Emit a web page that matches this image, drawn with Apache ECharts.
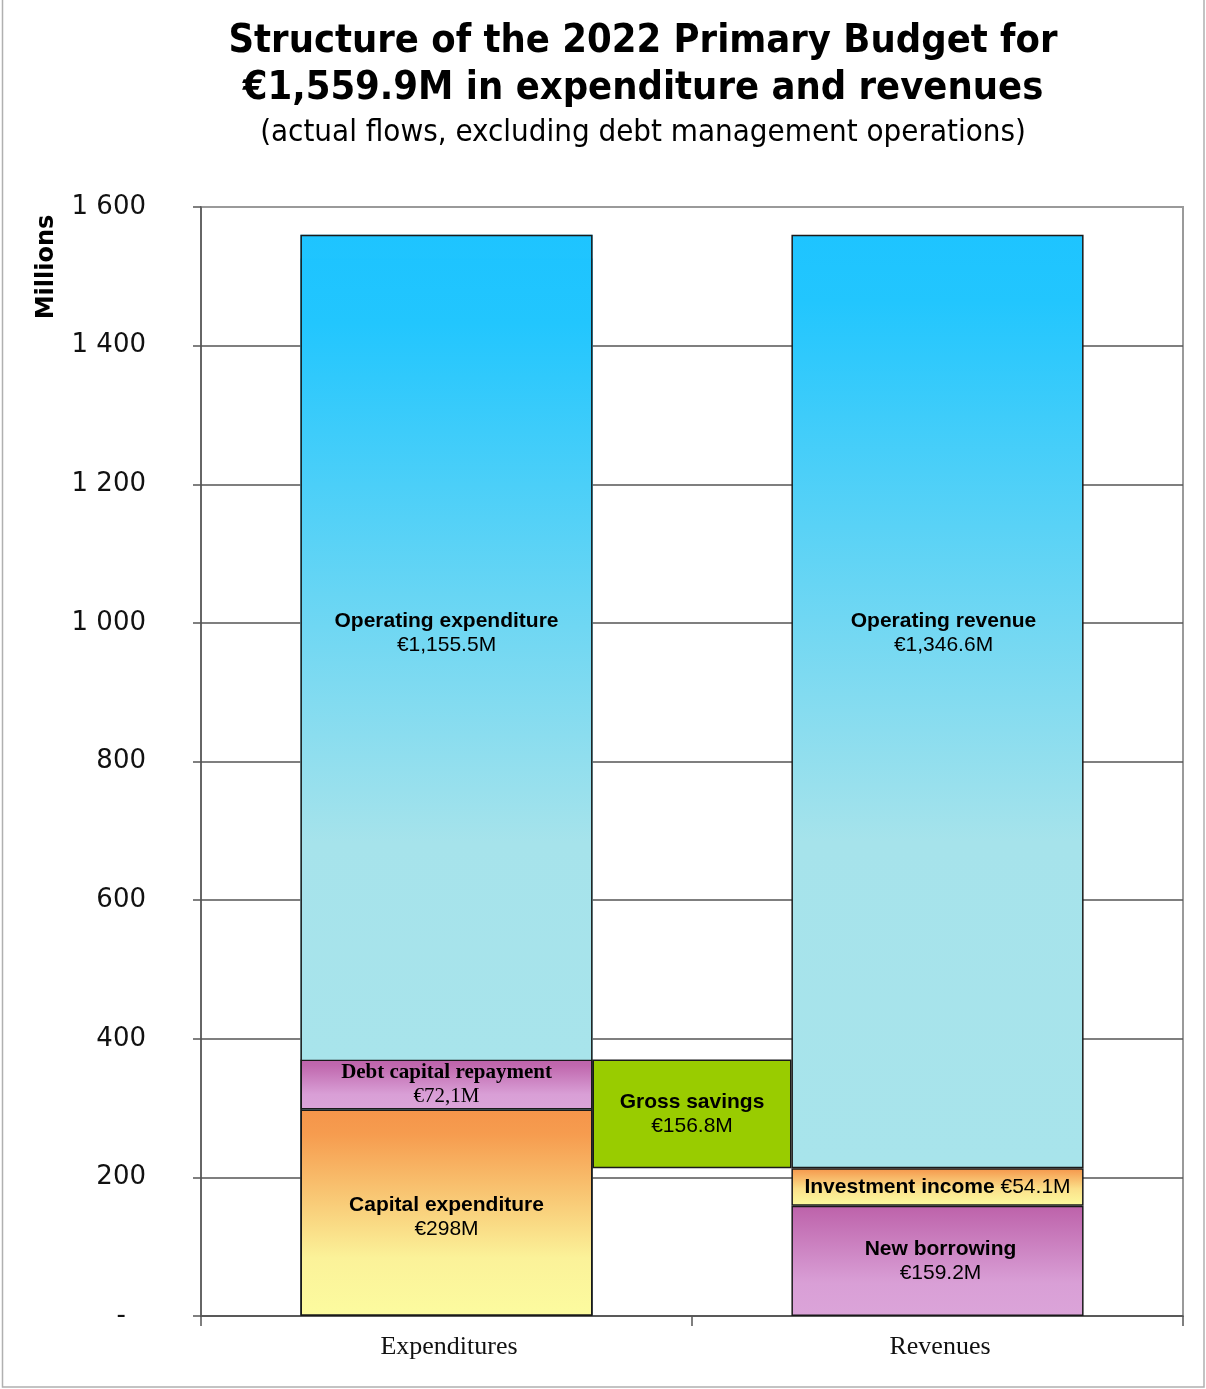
<!DOCTYPE html>
<html>
<head>
<meta charset="utf-8">
<script src="https://cdn.jsdelivr.net/npm/echarts@6/dist/echarts.min.js"></script>
<style>
  html, body { margin: 0; padding: 0; background: #ffffff; }
  #chart { width: 1206px; height: 1389px; }
</style>
</head>
<body>
<div id="chart"></div>
<script>
// Budget figures, millions of euros
const categories = ['Expenditures', 'Revenues'];
const yTicks = [0, 200, 400, 600, 800, 1000, 1200, 1400, 1600];

// Expenditures column (bottom to top)
const capitalExpenditure = [298, '-'];
const debtCapitalRepayment = [72.1, '-'];
const operatingExpenditure = [1155.5, '-'];

// Revenues column (bottom to top)
const newBorrowing = ['-', 159.2];
const investmentIncome = ['-', 54.1];
const operatingRevenue = ['-', 1346.6];

// Bridge between the two columns
const grossSavings = [156.8];

// Column totals (both sides balance)
const columnTotals = [1559.9, '-'];

const chart = echarts.init(document.getElementById('chart'), null, { renderer: 'canvas' });

const SANS = 'Liberation Sans, Arial, sans-serif';
const SERIF = 'Liberation Serif, Times New Roman, serif';
const TITLE_FONT = '"DejaVu Sans Condensed", "DejaVu Sans", Verdana, sans-serif';
const EDGE = '#1a1a1a';

function grad(stops) {
  return new echarts.graphic.LinearGradient(0, 0, 0, 1,
    stops.map(s => ({ offset: s[0], color: s[1] })));
}
function euro(v, digits, decimalComma) {
  let s = v.toLocaleString('en-US', { minimumFractionDigits: digits, maximumFractionDigits: digits });
  if (decimalComma) s = s.replace('.', ',');
  return '€' + s + 'M';
}
const richSans = {
  b: { fontFamily: SANS, fontWeight: 'bold', fontSize: 21, color: '#000', lineHeight: 24 },
  v: { fontFamily: SANS, fontSize: 21, color: '#000', lineHeight: 24 }
};
const richSerif = {
  b: { fontFamily: SERIF, fontWeight: 'bold', fontSize: 21, color: '#000', lineHeight: 24 },
  v: { fontFamily: SERIF, fontSize: 21, color: '#000', lineHeight: 24 }
};

const blueFill = (light) => grad([[0, '#1ec4ff'], [light * 0.11, '#22c6fe'], [light, '#a6e3eb'], [1, '#a8e4eb']]);
const orangeFill = grad([[0, '#f5954a'], [0.12, '#f69c4f'], [0.72, '#fbf299'], [1, '#fcfb9f']]);
const purpleFill = grad([[0, '#bd62aa'], [0.12, '#c068ae'], [0.7, '#d99fd6'], [1, '#dba4d9']]);
const shortOrangeFill = grad([[0, '#f5954a'], [0.55, '#fbe08a'], [1, '#fcfb9f']]);
const shortPurpleFill = grad([[0, '#bd62aa'], [0.7, '#d99fd6'], [1, '#dba4d9']]);

const BAR_W = '59.5%';

function segment(name, data, fill, label, border) {
  return {
    name, type: 'bar', stack: 'main', data,
    barWidth: BAR_W, barGap: '-100%',
    itemStyle: Object.assign({ color: fill, borderColor: EDGE, borderWidth: 1.5 }, border || {}),
    label: label ? Object.assign({ show: true, position: 'inside' }, label) : { show: false },
    emphasis: { disabled: true }
  };
}

// gross savings floats on top of the revenue items below operating revenue
const savingsBase = [newBorrowing[1] + investmentIncome[1]];

const option = {
  animation: false,
  backgroundColor: '#ffffff',
  grid: {
    left: 201, right: 23, top: 207, bottom: 73,
    show: true, borderColor: '#9a9a9a', borderWidth: 2, backgroundColor: 'transparent'
  },
  xAxis: [
    {
      type: 'category', data: categories,
      axisLine: { lineStyle: { color: '#555', width: 1.5 } },
      axisTick: { show: true, length: 10, alignWithLabel: false, lineStyle: { color: '#555', width: 1.5 } },
      axisLabel: { fontFamily: SERIF, fontSize: 26, color: '#111', margin: 18, padding: [0, 0, 0, 5] },
      splitLine: { show: false }
    },
    // single band spanning the plot, its centre sits on the boundary of the two columns
    { type: 'category', data: ['bridge'], show: false }
  ],
  yAxis: {
    type: 'value', min: 0, max: 1600, interval: 200,
    axisLine: { show: true, lineStyle: { color: '#555', width: 1.5 } },
    axisTick: { show: true, length: 8, lineStyle: { color: '#555', width: 1.5 } },
    axisLabel: {
      fontFamily: 'DejaVu Sans, Verdana, sans-serif', fontSize: 26, color: '#111', margin: 55,
      formatter: v => v === 0 ? '{d|-}' : (v >= 1000 ? Math.floor(v / 1000) + ' ' + String(v % 1000).padStart(3, '0') : String(v)),
      rich: { d: { fontFamily: 'DejaVu Sans, sans-serif', fontSize: 26, color: '#111', padding: [0, 20, 0, 0] } }
    },
    splitLine: { show: true, showMaxLine: false, lineStyle: { color: '#555', width: 1.5 } }
  },
  series: [
    {
      // full expenditures column, painted underneath the individual items
      name: 'Expenditures total', type: 'bar', stack: 'total',
      data: columnTotals, barWidth: BAR_W, barGap: '-100%', silent: true,
      itemStyle: { color: blueFill(0.56), borderWidth: 0 },
      emphasis: { disabled: true }
    },
    segment('Capital expenditure', capitalExpenditure, orangeFill, {
      offset: [0, 4], rich: richSans,
      formatter: p => '{b|Capital expenditure}\n{v|' + euro(p.value, 0) + '}'
    }),
    segment('Debt capital repayment', debtCapitalRepayment, purpleFill, {
      offset: [0, 0], rich: richSerif,
      formatter: p => '{b|Debt capital repayment}\n{v|' + euro(p.value, 1, true) + '}'
    }),
    segment('Operating expenditure', operatingExpenditure, blueFill(0.73), {
      offset: [0, -26], rich: richSans,
      formatter: p => '{b|Operating expenditure}\n{v|' + euro(p.value, 1) + '}'
    }, { borderWidth: 0 }),
    segment('New borrowing', newBorrowing, shortPurpleFill, {
      offset: [3, 0], rich: richSans,
      formatter: p => '{b|New borrowing}\n{v|' + euro(p.value, 1) + '}'
    }),
    segment('Investment income', investmentIncome, shortOrangeFill, {
      offset: [0, 0], rich: richSans,
      formatter: p => '{b|Investment income }{v|' + euro(p.value, 1) + '}'
    }),
    segment('Operating revenue', operatingRevenue, blueFill(0.65), {
      offset: [6, -68], rich: richSans,
      formatter: p => '{b|Operating revenue}\n{v|' + euro(p.value, 1) + '}'
    }),
    {
      // outline of the expenditures column
      name: 'Expenditures outline', type: 'bar', stack: 'outline',
      data: columnTotals, barWidth: BAR_W, barGap: '-100%', z: 3, silent: true,
      itemStyle: { color: 'rgba(0,0,0,0)', borderColor: EDGE, borderWidth: 1.5 },
      emphasis: { disabled: true }
    },
    {
      name: 'Savings base', type: 'bar', stack: 'gs', xAxisIndex: 1,
      data: savingsBase, barWidth: 199, silent: true,
      itemStyle: { color: 'rgba(0,0,0,0)', borderWidth: 0 },
      emphasis: { disabled: true }
    },
    {
      name: 'Gross savings', type: 'bar', stack: 'gs', xAxisIndex: 1,
      data: grossSavings, barWidth: 199,
      itemStyle: { color: '#99cc00', borderColor: EDGE, borderWidth: 1.5 },
      label: {
        show: true, position: 'inside', rich: richSans,
        formatter: p => '{b|Gross savings}\n{v|' + euro(p.value, 1) + '}'
      },
      emphasis: { disabled: true }
    }
  ],
  graphic: [
    {
      type: 'rect', silent: true, z: 100,
      shape: { x: 2.5, y: -2, width: 1201.5, height: 1389 },
      style: { fill: 'none', stroke: '#b0b0b0', lineWidth: 1.5 }
    },
    {
      type: 'text', x: 643, y: 42,
      style: { text: 'Structure of the 2022 Primary Budget for', font: 'bold 39.5px ' + TITLE_FONT,
        fill: '#000', textAlign: 'center', textVerticalAlign: 'middle' }
    },
    {
      type: 'text', x: 643, y: 89,
      style: { text: '€1,559.9M in expenditure and revenues', font: 'bold 39.5px ' + TITLE_FONT,
        fill: '#000', textAlign: 'center', textVerticalAlign: 'middle' }
    },
    {
      type: 'text', x: 643, y: 133,
      style: { text: '(actual flows, excluding debt management operations)', font: '31px ' + TITLE_FONT,
        fill: '#000', textAlign: 'center', textVerticalAlign: 'middle' }
    },
    {
      type: 'text', x: 47, y: 267, rotation: Math.PI / 2,
      style: { text: 'Millions', font: 'bold 24px "DejaVu Sans", Verdana, sans-serif',
        fill: '#000', textAlign: 'center', textVerticalAlign: 'middle' }
    }
  ]
};

chart.setOption(option);
</script>
</body>
</html>
